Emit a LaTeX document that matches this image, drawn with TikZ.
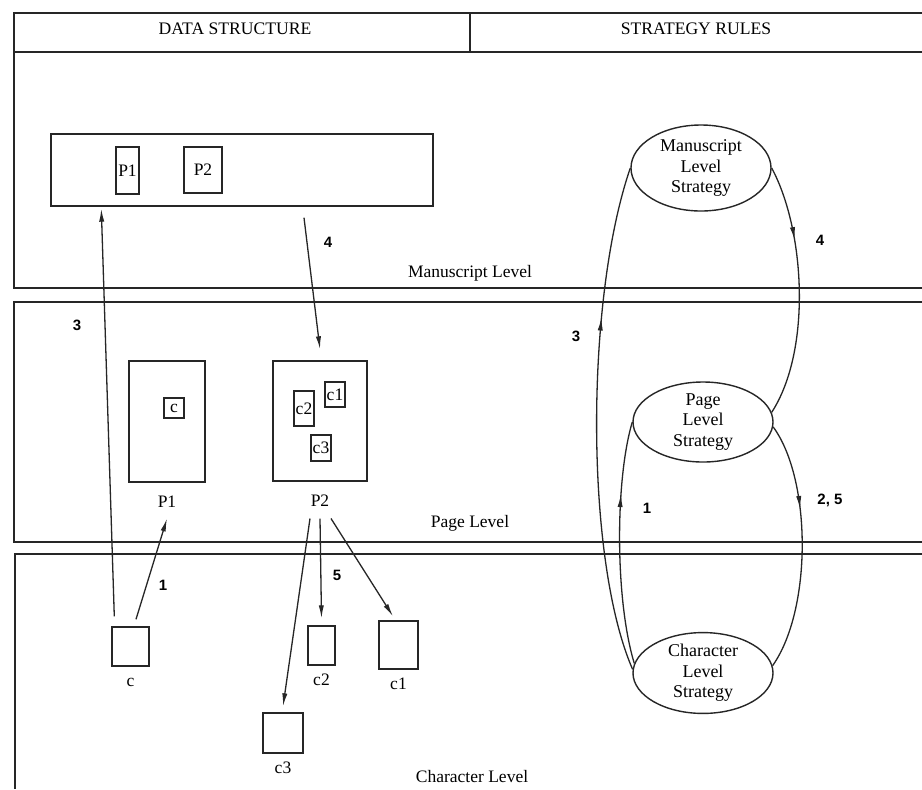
\documentclass[tikz,border=0pt]{standalone}
\usepackage{fontspec}
\setmainfont{Liberation Serif}
\newfontfamily\numfont{Liberation Sans}
\usetikzlibrary{
  arrows.meta,
  decorations.markings,
  shapes.geometric,
  positioning
}
\tikzset{
  frame line/.style={
    draw=black!85,
    line width=0.7pt
  },
  level box/.style={
    frame line
  },
  data box/.style={
    rectangle,
    frame line,
    inner sep=0pt,
    font=\fontsize{8.75}{10}\selectfont
  },
  box label/.style={
    inner sep=0pt,
    text height=6pt,
    text depth=0pt,
    font=\fontsize{8.75}{10}\selectfont
  },
  strategy/.style={
    ellipse,
    frame line,
    inner sep=0pt,
    minimum width=70pt,
    minimum height=40pt,
    align=center,
    font=\fontsize{9}{10.2}\selectfont
  },
  level name/.style={
    font=\fontsize{8.75}{10}\selectfont
  },
  head text/.style={
    font=\fontsize{8.8}{10}\selectfont
  },
  step num/.style={
    font=\numfont\bfseries\fontsize{7.5}{9}\selectfont
  },
  data arrow/.style={
    line width=0.65pt,
    draw=black!85,
    -{Latex[length=6.5pt,width=2.6pt]}
  },
  rule path/.style={
    line width=0.65pt,
    draw=black!85,
    postaction={decorate},
    decoration={
      markings,
      mark=at position #1 with {
        \arrow{Latex[length=6.5pt,width=2.6pt]}
      }
    }
  }
}

\begin{document}
\begin{tikzpicture}[x=0.5pt,y=-0.5pt]

    \fill[white] (0,0) rectangle (922,789);
    \useasboundingbox (0,0) rectangle (922,789);

    % ---------- frames ----------
    \draw[level box] (922,13) -- (14,13) -- (14,288) -- (922,288);
    \draw[level box] (14,52) -- (922,52);
    \draw[level box] (470,13) -- (470,52);
    \draw[level box] (922,302) -- (14,302) -- (14,542) -- (922,542);
    \draw[level box] (922,554) -- (15,554) -- (15,789);

    \node[head text] (hData) at (235,29) {DATA STRUCTURE};
    \node[head text] (hRules) at (696,29) {STRATEGY RULES};

    \node[level name] (lvMs) at (470,273) {Manuscript Level};
    \node[level name] (lvPg) at (470,523) {Page Level};
    \node[level name] (lvCh) at (472,777) {Character Level};

    % ---------- manuscript level ----------
    \node[data box, minimum width=191pt, minimum height=36pt]
      (msFrame) at (242,170) {};
    \node[data box, minimum width=11.5pt, minimum height=23.5pt]
      (msP1) at (127.5,170.5) {P1};
    \node[data box, minimum width=19pt, minimum height=23pt]
      (msP2) at (203,170) {P2};

    % ---------- page level ----------
    \node[data box, minimum width=38pt, minimum height=60.5pt]
      (pgP1) at (167,421.5) {};
    \node[data box, minimum width=10pt, minimum height=10pt]
      (pgC) at (174,408) {c};
    \node[box label, below=6pt of pgP1] (pgP1lbl) {P1};

    \node[data box, minimum width=47pt, minimum height=60pt]
      (pgP2) at (320,421) {};
    \node[data box, minimum width=10pt, minimum height=12.5pt]
      (pgC1) at (335,394.5) {c1};
    \node[data box, minimum width=10pt, minimum height=17.5pt]
      (pgC2) at (304,408.5) {c2};
    \node[data box, minimum width=10pt, minimum height=13pt]
      (pgC3) at (321,448) {c3};
    \node[box label, below=6pt of pgP2] (pgP2lbl) {P2};

    % ---------- character level ----------
    \node[data box, minimum width=18.5pt, minimum height=19.5pt]
      (chC) at (130.5,646.5) {};
    \node[data box, minimum width=13.5pt, minimum height=19.5pt]
      (chC2) at (321.5,645.5) {};
    \node[data box, minimum width=19.5pt, minimum height=24pt]
      (chC1) at (398.5,645) {};
    \node[data box, minimum width=20pt, minimum height=20pt]
      (chC3) at (283,733) {};

    \node[box label, below=3.5pt of chC] (chClbl) {c};
    \node[box label, below=3.5pt of chC2] (chC2lbl) {c2};
    \node[box label, below=3.5pt of chC1] (chC1lbl) {c1};
    \node[box label, below=3.5pt of chC3] (chC3lbl) {c3};

    % data flow
    \draw[data arrow]
      ([xshift=1.5pt,yshift=5pt]chC.north west)
      -- ([xshift=25.5pt,yshift=-1pt]msFrame.south west);
    \draw[data arrow]
      ([xshift=2.75pt,yshift=3.5pt]chC.north)
      -- ([yshift=-5.5pt]pgP1lbl.south);
    \draw[data arrow]
      ([xshift=31pt,yshift=-5.5pt]msFrame.south)
      -- ([yshift=5.5pt]pgP2.north);
    \draw[data arrow]
      ([xshift=-5pt,yshift=-6pt]pgP2lbl.south)
      -- ([yshift=3pt]chC3.north);
    \draw[data arrow]
      ([yshift=-6pt]pgP2lbl.south)
      -- ([yshift=3.5pt]chC2.north);
    \draw[data arrow]
      ([xshift=5.5pt,yshift=-6pt]pgP2lbl.south)
      -- ([xshift=-2.75pt,yshift=2pt]chC1.north);

    \node[step num] (d3) at (77,325) {3};
    \node[step num] (d4) at (328,242) {4};
    \node[step num] (d1) at (163,585) {1};
    \node[step num] (d5) at (337,575) {5};

    % ---------- strategy rules ----------
    \node[strategy, minimum height=43pt] (msStrat) at (701,168)
      {Manuscript\\Level\\Strategy};
    \node[strategy] (pgStrat) at (703,422)
      {Page\\Level\\Strategy};
    \node[strategy] (chStrat) at (703,673)
      {Character\\Level\\Strategy};

    \draw[rule path=0.3]
      (msStrat.east)
      .. controls (805,230) and (812,350) .. (pgStrat.8);
    \draw[rule path=0.35]
      (pgStrat.-4)
      .. controls (812,480) and (812,610) .. (chStrat.6);
    \draw[rule path=0.7]
      (chStrat.172)
      .. controls (615,600) and (615,480) .. (pgStrat.west);
    \draw[rule path=0.7]
      (chStrat.177)
      .. controls (585,560) and (585,300) .. (msStrat.west);

    \node[step num] (r4) at (820,240) {4};
    \node[step num] (r3) at (576,336) {3};
    \node[step num] (r25) at (830,500) {2, 5};
    \node[step num] (r1) at (647,508) {1};

  \end{tikzpicture}
\end{document}
